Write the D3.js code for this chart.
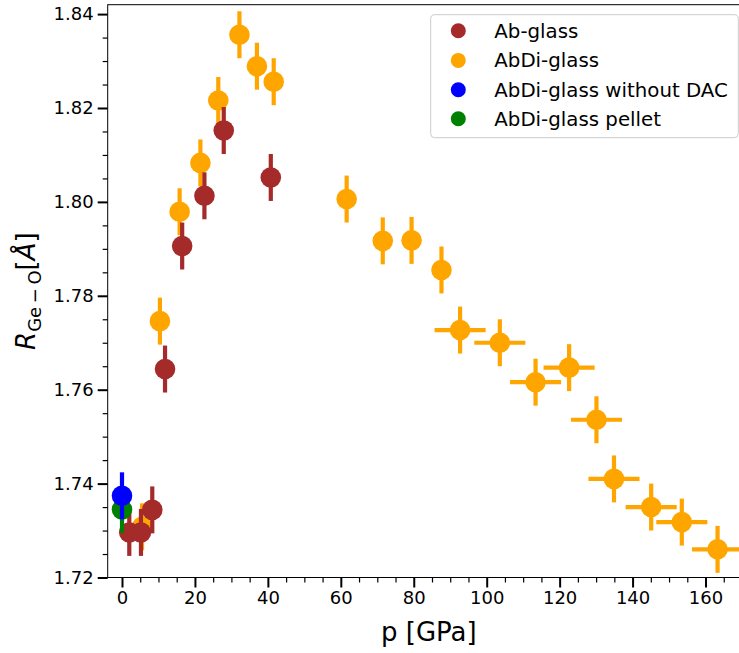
<!DOCTYPE html>
<html>
<head>
<meta charset="utf-8">
<script src="https://cdn.jsdelivr.net/npm/d3@7"></script>
<style>
  html, body { margin: 0; padding: 0; background: #fff; }
  svg { display: block; font-family: "DejaVu Sans", sans-serif; }
</style>
</head>
<body>
<svg id="chart" width="739" height="653"></svg>
<script>
// ---- Data ----
const abPressure = [2.0, 5.2, 8.3, 11.8, 16.5, 22.6, 27.9, 40.8];
const abR = [1.7296, 1.7296, 1.7344, 1.7644, 1.7906, 1.8013, 1.8152, 1.8052];

const abdiPressure = [5.5, 10.4, 15.8, 21.5, 26.4, 32.2, 37.0, 41.6, 61.6, 71.5, 79.4, 87.6,
                      92.7, 103.6, 113.4, 122.6, 130.1, 134.9, 145.1, 153.5, 163.3];
const abdiR = [1.7308, 1.7746, 1.7979, 1.8083, 1.8216, 1.8356, 1.8289, 1.8256, 1.8006, 1.7917, 1.7918, 1.7855,
               1.7727, 1.7700, 1.7616, 1.7647, 1.7536, 1.7410, 1.7350, 1.7318, 1.7260];
const abdiPErr = [0, 0, 0, 0, 0, 0, 0, 0, 0, 0, 0, 0, 7, 7, 7, 7, 7, 7, 7, 7, 7];

const noDacPressure = [0.0];
const noDacR = [1.7374];
const pelletPressure = [0.0];
const pelletR = [1.7345];

const rErr = 0.005;

const xTicks = [0, 20, 40, 60, 80, 100, 120, 140, 160];
const yTicks = [1.72, 1.74, 1.76, 1.78, 1.80, 1.82, 1.84];

const seriesNames = ["Ab-glass", "AbDi-glass", "AbDi-glass without DAC", "AbDi-glass pellet"];
const seriesColors = ["#a52a2a", "#ffa500", "#0000ff", "#008000"];

// ---- Layout ----
const svg = d3.select("#chart");
const L = 107.7, R = 746, T = 4.7, B = 577.5;

const x = d3.scaleLinear().domain([-3.92, 171.1]).range([L, R]);
const y = d3.scaleLinear().domain([1.72, 1.842]).range([B, T]);

// ---- Axes ----
const xMinor = d3.range(-0, 171, 5).filter(v => v % 20 !== 0);
const yMinor = d3.range(1.72, 1.842, 0.005).map(v => +v.toFixed(3)).filter(v => Math.round(v * 1000) % 20 !== 0);

const xAxis = svg.append("g").attr("transform", `translate(0,${B})`)
  .call(d3.axisBottom(x).tickValues(xTicks).tickFormat(d3.format("d")).tickSize(10).tickPadding(4));
const xAxisMinor = svg.append("g").attr("transform", `translate(0,${B})`)
  .call(d3.axisBottom(x).tickValues(xMinor).tickFormat("").tickSize(5));
const yAxis = svg.append("g").attr("transform", `translate(${L},0)`)
  .call(d3.axisLeft(y).tickValues(yTicks).tickFormat(d3.format(".2f")).tickSize(10).tickPadding(4));
const yAxisMinor = svg.append("g").attr("transform", `translate(${L},0)`)
  .call(d3.axisLeft(y).tickValues(yMinor).tickFormat("").tickSize(5));

[xAxis, xAxisMinor, yAxis, yAxisMinor].forEach(g => g.select(".domain").remove());
[xAxis, yAxis].forEach(g => {
  g.selectAll(".tick line").attr("stroke", "#000").attr("stroke-width", 2);
  g.selectAll(".tick text").attr("fill", "#000").style("font-size", "18px").style("font-family", "DejaVu Sans");
});
[xAxisMinor, yAxisMinor].forEach(g => g.selectAll(".tick line").attr("stroke", "#000").attr("stroke-width", 1.2));

// frame
svg.append("rect").attr("x", L).attr("y", T).attr("width", R - L).attr("height", B - T)
  .attr("fill", "none").attr("stroke", "#000").attr("stroke-width", 1);

// axis labels
svg.append("text").attr("x", (L + R) / 2 + 2).attr("y", 641).attr("text-anchor", "middle")
  .style("font-size", "26px").attr("fill", "#000").text("p [GPa]");

const yl = svg.append("text").attr("transform", `translate(35,${(T + B) / 2}) rotate(-90)`)
  .attr("text-anchor", "middle").style("font-size", "26px").attr("fill", "#000");
yl.append("tspan").style("font-style", "italic").text("R");
yl.append("tspan").attr("dy", 6).style("font-size", "18px").text("Ge\u2009\u2212\u2009O");
yl.append("tspan").attr("dy", -6).text("[");
yl.append("tspan").style("font-style", "italic").text("Å");
yl.append("tspan").text("]");

// ---- Marks ----
function drawSeries(px, py, pxErr, color) {
  const data = px.map((p, i) => ({ p, r: py[i], e: pxErr ? pxErr[i] : 0 }));
  const g = svg.append("g");
  g.selectAll(".ey").data(data).join("line")
    .attr("x1", d => x(d.p)).attr("x2", d => x(d.p))
    .attr("y1", d => y(d.r - rErr)).attr("y2", d => y(d.r + rErr))
    .attr("stroke", color).attr("stroke-width", 4.2);
  g.selectAll(".ex").data(data.filter(d => d.e > 0)).join("line")
    .attr("x1", d => x(d.p - d.e)).attr("x2", d => x(d.p + d.e))
    .attr("y1", d => y(d.r)).attr("y2", d => y(d.r))
    .attr("stroke", color).attr("stroke-width", 4.2);
  g.selectAll("circle").data(data).join("circle")
    .attr("cx", d => x(d.p)).attr("cy", d => y(d.r)).attr("r", 10.3)
    .attr("fill", color);
}

drawSeries(abdiPressure, abdiR, abdiPErr, seriesColors[1]);
drawSeries(abPressure, abR, null, seriesColors[0]);
drawSeries(pelletPressure, pelletR, null, seriesColors[3]);
drawSeries(noDacPressure, noDacR, null, seriesColors[2]);

// ---- Legend ----
const lg = svg.append("g");
lg.append("rect").attr("x", 430.7).attr("y", 14.7).attr("width", 307.6).attr("height", 123)
  .attr("rx", 4).attr("fill", "#fff").attr("fill-opacity", 0.8).attr("stroke", "#cccccc").attr("stroke-width", 1);
const rowY = [30.7, 60.4, 89.7, 118.7];
seriesNames.forEach((name, i) => {
  lg.append("circle").attr("cx", 458.3).attr("cy", rowY[i]).attr("r", 7.5).attr("fill", seriesColors[i]);
  lg.append("text").attr("x", 494.3).attr("y", rowY[i] + 7).style("font-size", "19.8px")
    .attr("fill", "#000").text(name);
});
</script>
</body>
</html>
